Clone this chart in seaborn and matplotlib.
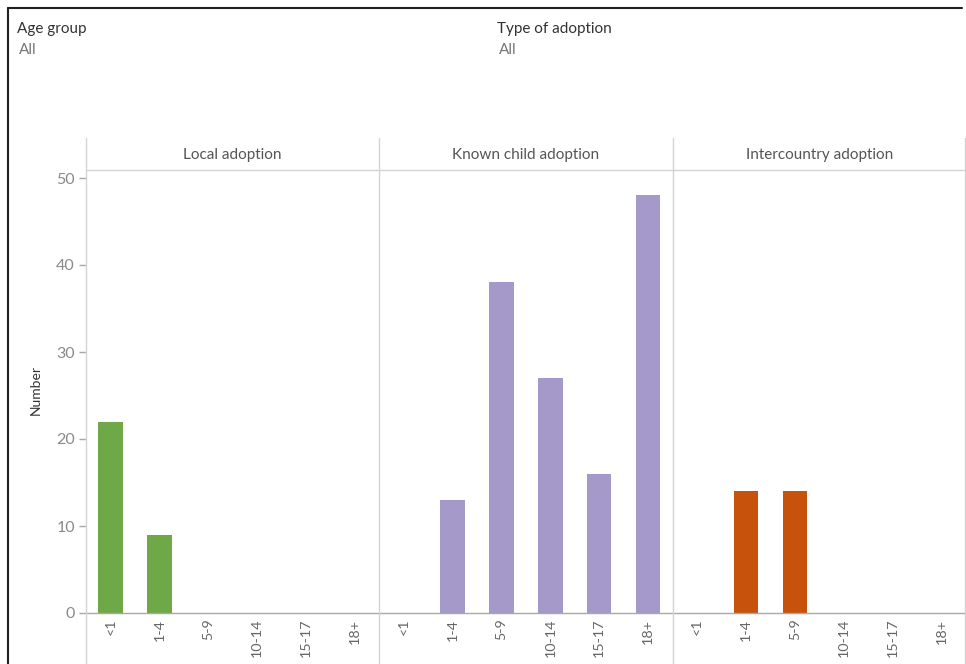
import matplotlib
matplotlib.use('Agg')
import matplotlib.pyplot as plt
from matplotlib.lines import Line2D
import pandas as pd
import seaborn as sns

# Data
age_groups = ['<1', '1-4', '5-9', '10-14', '15-17', '18+']
adoption_types = ['Local adoption', 'Known child adoption', 'Intercountry adoption']
local_adoption = [22, 9, 0, 0, 0, 0]
known_child_adoption = [0, 13, 38, 27, 16, 48]
intercountry_adoption = [0, 14, 14, 0, 0, 0]
y_ticks = [0, 10, 20, 30, 40, 50]

colors = {'Local adoption': '#6fa847',
          'Known child adoption': '#a599c9',
          'Intercountry adoption': '#c6520c'}

df = pd.DataFrame({
    'type': [t for t in adoption_types for _ in age_groups],
    'age': age_groups * 3,
    'number': local_adoption + known_child_adoption + intercountry_adoption,
})

sns.set_style('white')
plt.rcParams['font.family'] = ['Lato', 'DejaVu Sans']

W, H = 966, 664
fig = plt.figure(figsize=(W / 100, H / 100), dpi=100)

def fx(px):
    return px / W

def fy(py):
    return 1 - py / H

sep_color = '#d4d4d4'
base_color = '#a8a8a8'

# panel geometry (pixels)
left0, panel_w = 86, 293.3
top_px, base_px = 170, 613
ymax = (base_px - top_px) / 8.7

for i, t in enumerate(adoption_types):
    x0 = left0 + i * panel_w
    ax = fig.add_axes([fx(x0), fy(base_px), panel_w / W, (base_px - top_px) / H])
    sub = df[df['type'] == t]
    sns.barplot(data=sub, x='age', y='number', order=age_groups, color=colors[t],
                saturation=1, width=0.5, linewidth=0, ax=ax)
    ax.set_xlim(-0.5, 5.5)
    ax.set_ylim(0, ymax)
    ax.set_xlabel('')
    ax.set_ylabel('')
    for s in ['left', 'right']:
        ax.spines[s].set_visible(False)
    ax.spines['top'].set_color(sep_color)
    ax.spines['top'].set_linewidth(1)
    ax.spines['bottom'].set_color(base_color)
    ax.spines['bottom'].set_linewidth(1)
    ax.set_xticks(range(len(age_groups)))
    ax.set_xticklabels(age_groups, rotation=90, fontsize=10.3, color='#666666')
    ax.set_xticks([k + 0.5 for k in range(len(age_groups) - 1)], minor=True)
    ax.tick_params(axis='x', which='major', length=0, pad=4)
    ax.tick_params(axis='x', which='minor', length=4, width=1, color=base_color, direction='out')
    if i == 0:
        ax.set_yticks(y_ticks)
        ax.tick_params(axis='y', length=5, width=1, color=base_color, labelsize=11.5,
                       labelcolor='#8a8a8a', pad=3, left=True)
    else:
        ax.set_yticks([])
    fig.text(fx(x0 + panel_w / 2), fy(155), t, ha='center', va='center',
             fontsize=11, color='#555555')

# panel separators
for i in range(4):
    x = fx(left0 + i * panel_w - (1 if i == 3 else 0))
    fig.add_artist(Line2D([x, x], [fy(138), 0], color=sep_color, linewidth=1))

# outer frame (top and left)
fig.add_artist(Line2D([fx(8), fx(962)], [fy(8), fy(8)], color='#222222', linewidth=1.5))
fig.add_artist(Line2D([fx(8), fx(8)], [fy(8), 0], color='#222222', linewidth=1.5))

# filter captions
fig.text(fx(17), fy(29), 'Age group', ha='left', va='center', fontsize=11, color='#333333')
fig.text(fx(19), fy(50), 'All', ha='left', va='center', fontsize=11, color='#777777')
fig.text(fx(497), fy(29), 'Type of adoption', ha='left', va='center', fontsize=11, color='#333333')
fig.text(fx(499), fy(50), 'All', ha='left', va='center', fontsize=11, color='#777777')

fig.text(fx(36), fy(390), 'Number', rotation=90, ha='center', va='center',
         fontsize=10, color='#333333')

fig.savefig('out.png', dpi=100)
